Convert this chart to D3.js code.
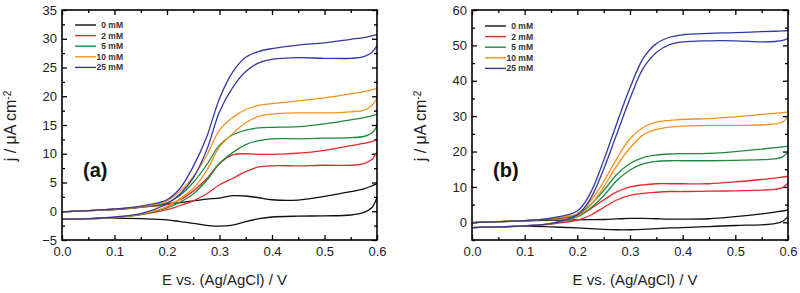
<!DOCTYPE html>
<html lang="en">
<head>
    <meta charset="UTF-8">
    <script src="https://d3js.org/d3.v7.min.js"></script>
    <style>
        body { margin: 0; background: #fff; font-family: Arial, "Liberation Sans", sans-serif; }
        .tick text { font-size: 13px; fill: #222; font-family: Arial, "Liberation Sans", sans-serif; }
        .tick line { stroke: #000; stroke-width: 1.3px; }
        .frame { fill: none; stroke: #000; stroke-width: 1.6px; }
        .curve { fill: none; stroke-width: 1.3px; }
        .axis-title { font-size: 15px; fill: #222; }
        .legend text { font-size: 8.5px; font-weight: bold; fill: #333; text-anchor: end; }
        .panel-label { font-size: 20px; font-weight: bold; fill: #111; }
    </style>
</head>
<body>
    <svg id="chart"></svg>
    <script>
        // potential grid shared by all curves (V vs Ag/AgCl)
        const potential = [0, 0.05, 0.1, 0.15, 0.2, 0.225, 0.25, 0.275, 0.3, 0.325, 0.35, 0.375, 0.4, 0.45, 0.5, 0.55, 0.575, 0.59, 0.6];

        const concLabels = ["0 mM", "2 mM", "5 mM", "10 mM", "25 mM"];

        // panel (a): upper (forward) and lower (reverse) branches, µA cm-2
        const aFwd0  = [-0.1, 0.1, 0.3, 0.7, 1.2, 1.5, 1.8, 2.1, 2.3, 2.7, 2.65, 2.35, 2.0, 1.95, 2.6, 3.4, 3.9, 4.4, 4.8];
        const aRev0  = [-1.4, -1.3, -1.2, -1.3, -1.5, -1.8, -2.1, -2.45, -2.6, -2.4, -1.8, -1.3, -1.0, -0.85, -0.8, -0.65, -0.2, 0.6, 2.4];
        const aFwd2  = [-0.1, 0.1, 0.35, 0.7, 1.2, 2.0, 3.5, 5.6, 8.3, 9.8, 10.0, 9.9, 9.9, 10.1, 10.6, 11.4, 11.8, 12.1, 12.4];
        const aRev2  = [-1.4, -1.3, -1.1, -0.6, 0.3, 1.0, 1.8, 3.0, 4.6, 5.7, 6.9, 7.7, 7.9, 7.9, 8.0, 8.0, 8.3, 9.0, 10.4];
        const aFwd5  = [-0.1, 0.1, 0.35, 0.75, 1.5, 2.8, 5.0, 8.0, 11.5, 13.3, 14.1, 14.5, 14.6, 14.7, 15.2, 15.9, 16.3, 16.6, 16.9];
        const aRev5  = [-1.4, -1.3, -1.1, -0.6, 0.6, 1.6, 3.0, 5.3, 8.3, 10.2, 11.6, 12.3, 12.6, 12.6, 12.7, 12.8, 13.0, 13.6, 14.8];
        const aFwd10 = [-0.1, 0.1, 0.35, 0.8, 1.8, 3.5, 6.0, 9.6, 14.1, 16.3, 17.7, 18.4, 18.7, 19.2, 19.7, 20.4, 20.8, 21.1, 21.4];
        const aRev10 = [-1.4, -1.3, -1.1, -0.5, 0.8, 2.2, 4.0, 7.0, 11.2, 13.5, 15.4, 16.5, 16.9, 17.1, 17.1, 17.3, 17.6, 18.4, 19.7];
        const aFwd25 = [-0.1, 0.1, 0.4, 0.9, 2.0, 4.0, 7.8, 12.8, 19.6, 24.2, 26.8, 27.8, 28.3, 28.9, 29.3, 29.9, 30.2, 30.5, 30.7];
        const aRev25 = [-1.4, -1.3, -1.0, -0.4, 1.3, 3.0, 5.8, 10.5, 17.3, 21.5, 24.3, 25.8, 26.4, 26.7, 26.6, 26.6, 26.9, 27.6, 28.8];

        // panel (b)
        const bFwd0  = [-0.1, 0.2, 0.4, 0.6, 0.7, 0.75, 0.8, 0.95, 1.1, 1.1, 1.0, 0.9, 0.9, 1.0, 1.6, 2.4, 2.9, 3.2, 3.5];
        const bRev0  = [-1.5, -1.3, -1.1, -1.3, -1.6, -1.8, -2.0, -2.1, -2.1, -2.0, -1.8, -1.6, -1.5, -1.2, -0.9, -0.7, -0.4, 0.3, 1.6];
        const bFwd2  = [-0.1, 0.2, 0.45, 0.9, 1.8, 3.8, 6.3, 8.6, 10.0, 10.6, 10.9, 10.9, 10.9, 10.9, 11.4, 12.1, 12.5, 12.8, 13.0];
        const bRev2  = [-1.5, -1.3, -1.0, -0.5, 0.6, 2.0, 4.2, 6.3, 7.6, 8.2, 8.5, 8.7, 8.7, 8.8, 8.9, 9.1, 9.3, 9.8, 11.1];
        const bFwd5  = [-0.1, 0.2, 0.45, 1.0, 2.2, 5.0, 9.0, 13.5, 16.6, 18.3, 19.0, 19.3, 19.4, 19.5, 20.0, 20.7, 21.1, 21.3, 21.5];
        const bRev5  = [-1.5, -1.3, -1.0, -0.4, 1.5, 4.0, 7.5, 11.8, 14.8, 16.5, 17.2, 17.4, 17.4, 17.4, 17.5, 17.7, 17.9, 18.5, 19.9];
        const bFwd10 = [-0.1, 0.2, 0.5, 1.1, 2.5, 6.0, 11.5, 18.0, 23.6, 26.8, 28.3, 28.8, 29.1, 29.3, 29.8, 30.5, 30.8, 31.0, 31.2];
        const bRev10 = [-1.5, -1.3, -1.0, -0.3, 1.8, 4.8, 10.0, 16.0, 21.0, 24.7, 26.2, 26.9, 27.2, 27.4, 27.4, 27.5, 27.8, 28.4, 29.8];
        const bFwd25 = [-0.1, 0.2, 0.5, 1.2, 3.2, 8.3, 17.5, 28.0, 38.0, 46.3, 50.5, 52.3, 53.0, 53.4, 53.6, 53.9, 54.0, 54.1, 54.2];
        const bRev25 = [-1.5, -1.3, -1.0, -0.3, 2.1, 6.7, 15.0, 25.0, 35.0, 43.5, 48.0, 50.2, 51.0, 51.3, 51.3, 51.0, 51.1, 51.4, 52.0];

        // tick labels
        const xTicks = [0, 0.1, 0.2, 0.3, 0.4, 0.5, 0.6];
        const aYTicks = [-5, 0, 5, 10, 15, 20, 25, 30, 35];
        const bYTicks = [0, 10, 20, 30, 40, 50, 60];

        const colors = ["#111111", "#e8282b", "#1e8a3e", "#f5921e", "#3538a3"];

        const width = 800, height = 293;
        const svg = d3.select("#chart").attr("width", width).attr("height", height);

        function drawPanel(opt) {
            const g = svg.append("g");
            const x = d3.scaleLinear().domain([0, 0.6]).range([opt.left, opt.right]);
            const y = d3.scaleLinear().domain(opt.yDomain).range([240, 10]);
            const xMinor = d3.range(0.05, 0.6, 0.1);
            const yMinor = d3.range(opt.yDomain[0], opt.yDomain[1] + 0.01, opt.yStep / 2)
                .filter(v => !opt.yTicks.includes(v));

            const addAxis = (axis, tr, vals, size, fmt, pad) => {
                const a = g.append("g").attr("transform", tr)
                    .call(axis.tickValues(vals).tickSize(-size).tickSizeOuter(0)
                        .tickPadding(pad || 5).tickFormat(fmt));
                a.select(".domain").remove();
                a.attr("font-family", null).attr("font-size", null);
                return a;
            };
            // bottom & left with labels, top & right mirrored
            addAxis(d3.axisBottom(x), `translate(0,240)`, xTicks, 5, d3.format(".1f"), 7);
            addAxis(d3.axisBottom(x), `translate(0,240)`, xMinor, 3, () => "");
            addAxis(d3.axisTop(x), `translate(0,10)`, xTicks, 5, () => "");
            addAxis(d3.axisTop(x), `translate(0,10)`, xMinor, 3, () => "");
            addAxis(d3.axisLeft(y), `translate(${opt.left},0)`, opt.yTicks, 5, d3.format("d"), 5);
            addAxis(d3.axisLeft(y), `translate(${opt.left},0)`, yMinor, 3, () => "");
            addAxis(d3.axisRight(y), `translate(${opt.right},0)`, opt.yTicks, 5, () => "");
            addAxis(d3.axisRight(y), `translate(${opt.right},0)`, yMinor, 3, () => "");

            const line = d3.line()
                .x((d, i) => x(potential[i]))
                .y(d => y(d))
                .curve(d3.curveCatmullRom.alpha(0.5));

            opt.series.forEach((pair, i) => {
                pair.forEach(vals => {
                    g.append("path").attr("class", "curve")
                        .attr("d", line(vals))
                        .attr("stroke", colors[i]);
                });
            });

            g.append("rect").attr("class", "frame")
                .attr("x", opt.left).attr("y", 10)
                .attr("width", opt.right - opt.left).attr("height", 230);

            // legend
            const lg = g.append("g").attr("class", "legend");
            concLabels.forEach((lab, i) => {
                const ly = opt.legendY + i * 10.6;
                lg.append("line")
                    .attr("x1", opt.left + 13).attr("x2", opt.left + 34)
                    .attr("y1", ly).attr("y2", ly)
                    .attr("stroke", colors[i]).attr("stroke-width", 1.4);
                lg.append("text")
                    .attr("x", opt.left + 61).attr("y", ly).attr("dy", "0.35em")
                    .text(lab);
            });

            g.append("text").attr("class", "panel-label")
                .attr("x", opt.left + 21).attr("y", 177)
                .text(opt.label);

            g.append("text").attr("class", "axis-title")
                .attr("x", (opt.left + opt.right) / 2 + 5).attr("y", 285)
                .attr("text-anchor", "middle")
                .text("E vs. (Ag/AgCl) / V");

            const yt = g.append("text").attr("class", "axis-title")
                .attr("text-anchor", "middle")
                .attr("transform", `translate(${opt.left - 46},126) rotate(-90)`)
                .style("font-size", "16px");
            yt.append("tspan").text("j / \u03bcA cm");
            yt.append("tspan").attr("dy", "-0.55em").style("font-size", "10px").text("-2");
        }

        drawPanel({
            left: 62, right: 377, yDomain: [-5, 35], yStep: 5, yTicks: aYTicks,
            legendY: 25, label: "(a)",
            series: [[aFwd0, aRev0], [aFwd2, aRev2], [aFwd5, aRev5], [aFwd10, aRev10], [aFwd25, aRev25]]
        });
        drawPanel({
            left: 472, right: 788, yDomain: [-5, 60], yStep: 10, yTicks: bYTicks,
            legendY: 26, label: "(b)",
            series: [[bFwd0, bRev0], [bFwd2, bRev2], [bFwd5, bRev5], [bFwd10, bRev10], [bFwd25, bRev25]]
        });
    </script>
</body>
</html>
